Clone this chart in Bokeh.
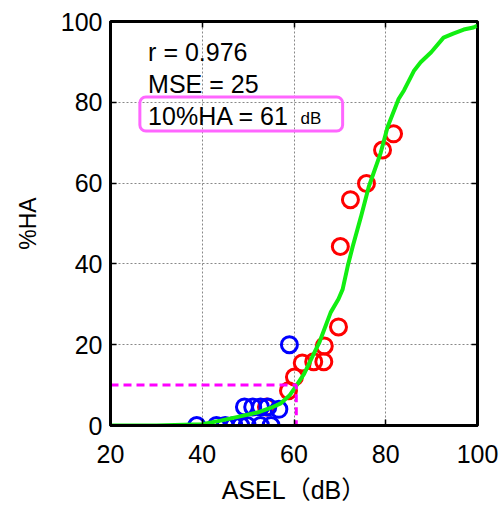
from bokeh.plotting import figure
from bokeh.models import Range1d, FixedTicker, Label, BoxAnnotation, LinearAxis
from bokeh.embed import file_html
from bokeh.resources import INLINE

# ---- data ----
red_x = [54.0, 58.8, 60.1, 61.8, 64.3, 66.5, 66.6, 69.7, 70.1, 72.3, 75.8, 79.3, 81.7]
red_y = [4.6, 8.6, 12.0, 15.5, 15.8, 15.8, 19.7, 24.4, 44.3, 55.9, 59.9, 68.2, 72.2]

blue_x = [38.8, 43.1, 45.0, 46.9, 48.4, 49.8, 52.7, 55.0, 49.2, 51.0, 52.7, 54.3, 56.7, 59.0]
blue_y = [0.0, 0.0, 0.0, 0.0, 0.0, 0.0, 0.0, 0.0, 4.6, 4.6, 4.6, 4.6, 4.0, 20.0]

fit_x = [20, 30, 40, 44, 48, 52, 55, 57, 59, 60.3, 62.2, 64.3, 65.5, 68, 69.7, 70.6,
         71.7, 72.8, 74.6, 76.3, 78.9, 80.4, 82.8, 84, 86.2, 87.6, 89.9, 92.6, 94.7,
         97, 99.1, 100]
fit_y = [0, 0, 0.3, 1.2, 2.2, 3.2, 4.4, 5.4, 7.4, 9.5, 12.8, 17.7, 20.5, 28, 31.3, 33.7,
         39.4, 44.3, 51.7, 59.1, 67.5, 73.9, 80.8, 83, 87.9, 89.9, 92.4, 96, 97,
         98, 98.5, 99]

ha10_level = 10
ha10_asel = 60.5

x_ticks = [20, 40, 60, 80, 100]
y_ticks = [0, 20, 40, 60, 80, 100]

stat_texts = ["r = 0.976", "MSE = 25", "10%HA = 61"]
unit_text = "dB"

FONT = "Liberation Sans"

p = figure(width=502, height=506, output_backend="svg", toolbar_location=None,
           x_range=Range1d(20, 100), y_range=Range1d(0, 100),
           min_border_left=110, min_border_right=25,
           min_border_top=21, min_border_bottom=79,
           background_fill_color="white", border_fill_color="white")

p.outline_line_color = "black"
p.outline_line_width = 3

p.xaxis.ticker = FixedTicker(ticks=x_ticks)
p.yaxis.ticker = FixedTicker(ticks=y_ticks)

for ax in [p.xaxis[0], p.yaxis[0]]:
    ax.axis_line_width = 3
    ax.axis_line_color = "black"
    ax.major_tick_in = 6
    ax.major_tick_out = 0
    ax.major_tick_line_width = 1.5
    ax.major_tick_line_color = "black"
    ax.minor_tick_line_color = None
    ax.major_label_text_font = FONT
    ax.major_label_text_font_size = "25px"
    ax.major_label_text_color = "black"
    ax.axis_label_text_font_style = "normal"
    ax.axis_label_text_color = "black"

p.xaxis.major_label_standoff = 19
p.yaxis.major_label_standoff = 8
p.xaxis.axis_label = "ASEL（dB）"
p.xaxis.axis_label_text_font = "Liberation Sans, Noto Sans CJK JP"
p.xaxis.axis_label_text_font_size = "25px"
p.xaxis.axis_label_standoff = 10
p.yaxis.axis_label = "%HA"
p.yaxis.axis_label_text_font = FONT
p.yaxis.axis_label_text_font_size = "23px"
p.yaxis.axis_label_standoff = 17

# mirrored tick marks on top and right (no labels)
top_ax = LinearAxis(ticker=FixedTicker(ticks=x_ticks), axis_line_color=None,
                    major_tick_in=6, major_tick_out=0, major_tick_line_width=1.5,
                    minor_tick_line_color=None, major_label_standoff=0,
                    major_label_overrides={t: "" for t in x_ticks})
right_ax = LinearAxis(ticker=FixedTicker(ticks=y_ticks), axis_line_color=None,
                      major_tick_in=6, major_tick_out=0, major_tick_line_width=1.5,
                      minor_tick_line_color=None, major_label_standoff=0,
                      major_label_overrides={t: "" for t in y_ticks})
p.add_layout(top_ax, "above")
p.add_layout(right_ax, "right")

p.grid.grid_line_color = "#888888"
p.grid.grid_line_dash = "2 2"
p.grid.grid_line_width = 1
p.xgrid.ticker = FixedTicker(ticks=x_ticks)
p.ygrid.ticker = FixedTicker(ticks=y_ticks)

p.scatter(red_x, red_y, marker="circle", size=16, fill_color=None,
          line_color="#ff0000", line_width=3)
p.scatter(blue_x, blue_y, marker="circle", size=16, fill_color=None,
          line_color="#0000ff", line_width=3)
p.line(fit_x, fit_y, line_color="#11ee11", line_width=4)
p.line([x_ticks[0], ha10_asel, ha10_asel], [ha10_level, ha10_level, y_ticks[0]],
       line_color="#ff00ff", line_width=3, line_dash="8 5")

ys = [92.5, 84.5, 76.7]
for t, yy in zip(stat_texts, ys):
    p.add_layout(Label(x=28.2, y=yy, text=t, text_font=FONT, text_font_size="25px",
                       text_color="black", text_baseline="alphabetic"))
p.add_layout(Label(x=61.4, y=76.0, text=unit_text, text_font=FONT,
                   text_font_size="17px", text_color="black",
                   text_baseline="alphabetic"))
p.add_layout(BoxAnnotation(left=26.4, right=70.6, bottom=72.9, top=81.3,
                           fill_alpha=0, line_color="#ff66ff", line_alpha=1.0,
                           line_width=3, border_radius=6))

open("out.html", "w").write(file_html(p, INLINE))
